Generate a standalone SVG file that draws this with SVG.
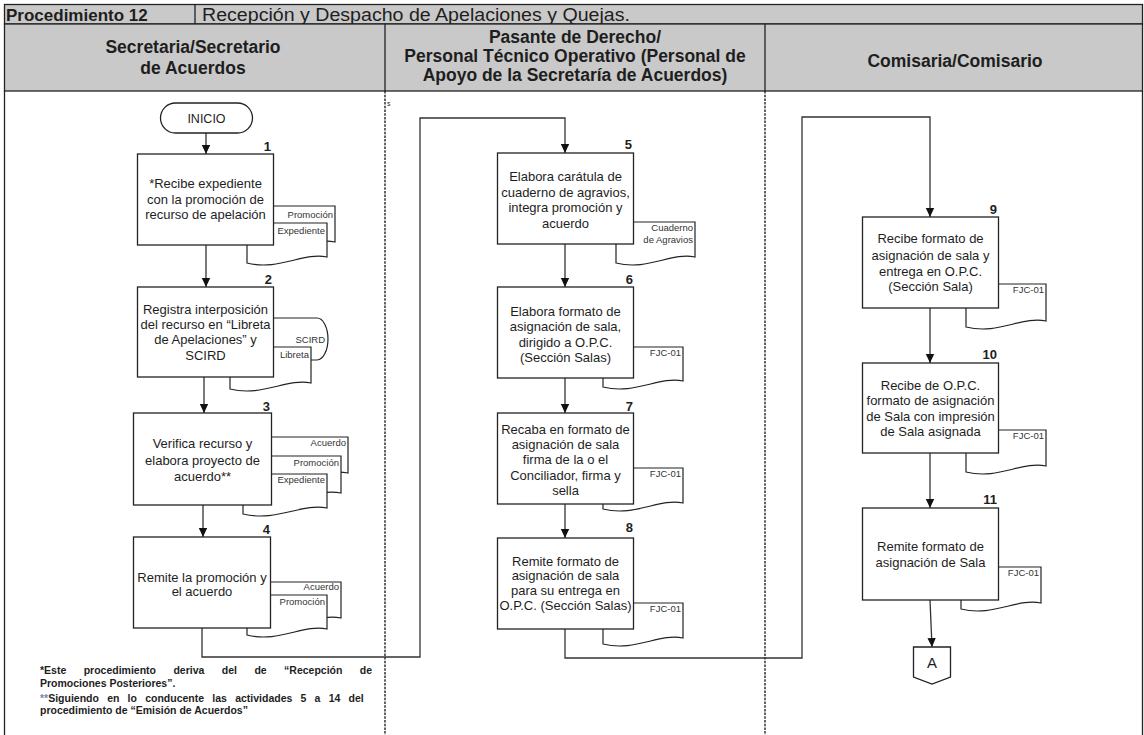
<svg xmlns="http://www.w3.org/2000/svg" width="1144" height="735" viewBox="0 0 1144 735">
<style>
text{font-family:"Liberation Sans",Arial,sans-serif;fill:#1e1e1e}
.hd{font-size:17.5px;font-weight:bold;text-anchor:middle}
.t{font-size:13px;text-anchor:middle}
.n{font-size:13px;font-weight:bold;text-anchor:end}
.d{font-size:9.5px;text-anchor:end;fill:#333}
.fn{font-size:10.5px;font-weight:bold}
.box{fill:#fff;stroke:#222;stroke-width:1.3}
.doc{fill:#fff;stroke:#222;stroke-width:1.2}
.conn{fill:none;stroke:#333;stroke-width:1.3}
.arr{marker-end:url(#ah)}
.dash{stroke:#111;stroke-width:1.3;stroke-dasharray:2.5,1.2}
</style>
<defs>
<marker id="ah" markerWidth="10" markerHeight="10" refX="9" refY="5" orient="auto" markerUnits="userSpaceOnUse">
<path d="M0,0.8 L9,5 L0,9.2 Z" fill="#111"/>
</marker>
</defs>
<rect width="1144" height="735" fill="#fff"/>
<g id="table">
<rect x="4.5" y="4.5" width="1138" height="19.5" fill="#c9c9c9" stroke="#222" stroke-width="1.3"/>
<line x1="195" y1="4.5" x2="195" y2="24" stroke="#222" stroke-width="1.3"/>
<text x="6" y="20.5" style="font-size:17px;font-weight:bold">Procedimiento 12</text>
<text x="202" y="20.5" style="font-size:17.5px" textLength="428" lengthAdjust="spacingAndGlyphs">Recepción y Despacho de Apelaciones y Quejas.</text>
<rect x="4.5" y="24" width="1138" height="67" fill="#c9c9c9" stroke="#222" stroke-width="1.3"/>
<line x1="385" y1="24" x2="385" y2="91" stroke="#222" stroke-width="1.3"/>
<line x1="765" y1="24" x2="765" y2="91" stroke="#222" stroke-width="1.3"/>
<text class="hd" x="193" y="53">Secretaria/Secretario</text>
<text class="hd" x="193" y="74">de Acuerdos</text>
<text class="hd" x="575" y="43">Pasante de Derecho/</text>
<text class="hd" x="575" y="62">Personal Técnico Operativo (Personal de</text>
<text class="hd" x="575" y="81">Apoyo de la Secretaría de Acuerdos)</text>
<text class="hd" x="955" y="67">Comisaria/Comisario</text>
<line x1="4.5" y1="91" x2="4.5" y2="735" stroke="#222" stroke-width="1.3"/>
<line x1="1142.5" y1="91" x2="1142.5" y2="735" stroke="#222" stroke-width="1.3"/>
<line class="dash" x1="385" y1="91" x2="385" y2="735"/>
<line class="dash" x1="765" y1="91" x2="765" y2="735"/>
<text x="387" y="106" style="font-size:7px">s</text>
</g>
<g id="connectors">
<line class="conn arr" x1="206" y1="133" x2="206" y2="154"/>
<line class="conn arr" x1="206" y1="245" x2="206" y2="287"/>
<line class="conn arr" x1="204" y1="377" x2="204" y2="413"/>
<line class="conn arr" x1="203" y1="505" x2="203" y2="537"/>
<polyline class="conn arr" points="202,628 202,657 420,657 420,118 565,118 565,153"/>
<line class="conn arr" x1="565" y1="244" x2="565" y2="287"/>
<line class="conn arr" x1="565" y1="378" x2="565" y2="413"/>
<line class="conn arr" x1="565" y1="504" x2="565" y2="538"/>
<polyline class="conn arr" points="565,629 565,658 802,658 802,117 930,117 930,217"/>
<line class="conn arr" x1="930" y1="308" x2="930" y2="363"/>
<line class="conn arr" x1="930" y1="453" x2="930" y2="508"/>
<line class="conn arr" x1="930" y1="600" x2="932" y2="647"/>
</g>
<g id="inicio">
<rect class="box" x="160.5" y="103" width="92" height="30" rx="15"/>
<text x="206.5" y="122.5" style="font-size:12.5px;text-anchor:middle">INICIO</text>
</g>
<g id="step1">
<path class="doc" d="M255,206 H335 V242 C311,237 287,256 255,248 Z"/>
<path class="doc" d="M247,223 H327 V257 C303,252 279,271 247,263 Z"/>
<rect class="box" x="137.5" y="154" width="136" height="91"/>
<text class="n" x="271" y="151">1</text>
<text class="t" x="205.5" y="188">*Recibe expediente</text>
<text class="t" x="205.5" y="203.5">con la promoción de</text>
<text class="t" x="205.5" y="219">recurso de apelación</text>
<text class="d" x="333" y="218">Promoción</text>
<text class="d" x="325" y="234">Expediente</text>
</g>
<g id="step2">
<path class="doc" d="M250,318 H317 A11,21 0 0 1 317,360 H250 Z"/>
<path class="doc" d="M230,347 H311 V383 C286.7,378 262.4,397 230,389 Z"/>
<rect class="box" x="137.5" y="287" width="136" height="90"/>
<text class="n" x="272" y="284">2</text>
<text class="t" x="205.5" y="313.5">Registra interposición</text>
<text class="t" x="205.5" y="328.5">del recurso en “Libreta</text>
<text class="t" x="205.5" y="344">de Apelaciones” y</text>
<text class="t" x="205.5" y="359.5">SCIRD</text>
<text class="d" x="325" y="343">SCIRD</text>
<text class="d" x="309" y="358">Libreta</text>
</g>
<g id="step3">
<path class="doc" d="M260,437 H348 V473 C321.6,468 295.2,487 260,479 Z"/>
<path class="doc" d="M252,456 H341 V493 C314.3,488 287.6,507 252,499 Z"/>
<path class="doc" d="M243,474 H327 V508 C301.8,503 276.6,522 243,514 Z"/>
<rect class="box" x="133.5" y="413" width="138" height="92"/>
<text class="n" x="270" y="410.5">3</text>
<text class="t" x="202.5" y="448">Verifica recurso y</text>
<text class="t" x="202.5" y="464.5">elabora proyecto de</text>
<text class="t" x="202.5" y="480.5">acuerdo**</text>
<text class="d" x="346" y="446">Acuerdo</text>
<text class="d" x="339" y="466">Promoción</text>
<text class="d" x="325" y="483">Expediente</text>
</g>
<g id="step4">
<path class="doc" d="M260,582 H341 V618 C316.7,613 292.4,632 260,624 Z"/>
<path class="doc" d="M247,595 H327 V629 C303,624 279,643 247,635 Z"/>
<rect class="box" x="133.5" y="537" width="137" height="91"/>
<text class="n" x="270" y="533.5">4</text>
<text class="t" x="202" y="581.5">Remite la promoción y</text>
<text class="t" x="202" y="595.5">el acuerdo</text>
<text class="d" x="339" y="590">Acuerdo</text>
<text class="d" x="325" y="605">Promoción</text>
</g>
<g id="step5">
<path class="doc" d="M616,222 H695 V257 C671.3,252 647.6,271 616,263 Z"/>
<rect class="box" x="497.5" y="153" width="136" height="91"/>
<text class="n" x="632" y="149">5</text>
<text class="t" x="565.5" y="180.5">Elabora carátula de</text>
<text class="t" x="565.5" y="196.5">cuaderno de agravios,</text>
<text class="t" x="565.5" y="212">integra promoción y</text>
<text class="t" x="565.5" y="228">acuerdo</text>
<text class="d" x="693" y="231">Cuaderno</text>
<text class="d" x="693" y="243">de Agravios</text>
</g>
<g id="step6">
<path class="doc" d="M603,347 H683 V381 C659,376 635,395 603,387 Z"/>
<rect class="box" x="497.5" y="287" width="136" height="91"/>
<text class="n" x="633" y="284">6</text>
<text class="t" x="565.5" y="316">Elabora formato de</text>
<text class="t" x="565.5" y="331">asignación de sala,</text>
<text class="t" x="565.5" y="346.5">dirigido a O.P.C.</text>
<text class="t" x="565.5" y="362">(Sección Salas)</text>
<text class="d" x="681" y="356">FJC-01</text>
</g>
<g id="step7">
<path class="doc" d="M603,468 H683 V503 C659,498 635,517 603,509 Z"/>
<rect class="box" x="497.5" y="413" width="136" height="91"/>
<text class="n" x="633" y="410.5">7</text>
<text class="t" x="565.5" y="433.5">Recaba en formato de</text>
<text class="t" x="565.5" y="448.5">asignación de sala</text>
<text class="t" x="565.5" y="464">firma de la o el</text>
<text class="t" x="565.5" y="479.5">Conciliador, firma y</text>
<text class="t" x="565.5" y="494.5">sella</text>
<text class="d" x="681" y="477">FJC-01</text>
</g>
<g id="step8">
<path class="doc" d="M603,603 H683 V638 C659,633 635,652 603,644 Z"/>
<rect class="box" x="497.5" y="538" width="136" height="91"/>
<text class="n" x="633" y="531.5">8</text>
<text class="t" x="565.5" y="566">Remite formato de</text>
<text class="t" x="565.5" y="579.5">asignación de sala</text>
<text class="t" x="565.5" y="594.5">para su entrega en</text>
<text class="t" x="565.5" y="609.5">O.P.C. (Sección Salas)</text>
<text class="d" x="681" y="612">FJC-01</text>
</g>
<g id="step9">
<path class="doc" d="M966,284 H1046 V321 C1022,316 998,335 966,327 Z"/>
<rect class="box" x="862.5" y="217" width="136" height="91"/>
<text class="n" x="997" y="213.5">9</text>
<text class="t" x="930.5" y="243">Recibe formato de</text>
<text class="t" x="930.5" y="260">asignación de sala y</text>
<text class="t" x="930.5" y="276">entrega en O.P.C.</text>
<text class="t" x="930.5" y="291">(Sección Sala)</text>
<text class="d" x="1044" y="293">FJC-01</text>
</g>
<g id="step10">
<path class="doc" d="M966,430 H1046 V466 C1022,461 998,480 966,472 Z"/>
<rect class="box" x="862.5" y="363" width="136" height="90"/>
<text class="n" x="997" y="358.5">10</text>
<text class="t" x="930.5" y="389.5">Recibe de O.P.C.</text>
<text class="t" x="930.5" y="405">formato de asignación</text>
<text class="t" x="930.5" y="420.5">de Sala con impresión</text>
<text class="t" x="930.5" y="436">de Sala asignada</text>
<text class="d" x="1044" y="439">FJC-01</text>
</g>
<g id="step11">
<path class="doc" d="M961,567 H1041 V603 C1017,598 993,617 961,609 Z"/>
<rect class="box" x="862.5" y="508" width="136" height="92"/>
<text class="n" x="997" y="503.5">11</text>
<text class="t" x="930.5" y="551">Remite formato de</text>
<text class="t" x="930.5" y="567">asignación de Sala</text>
<text class="d" x="1039" y="576">FJC-01</text>
</g>
<g id="connectorA">
<polygon class="box" points="913.5,647 950.5,647 950.5,677 932,684 913.5,677"/>
<text x="932" y="668" style="font-size:15px;text-anchor:middle">A</text>
</g>
<g id="notes">
<text class="fn" x="40" y="674" style="word-spacing:14.5px">*Este procedimiento deriva del de “Recepción de</text>
<text class="fn" x="40" y="687">Promociones Posteriores”.</text>
<text class="fn" x="40" y="701.5" style="word-spacing:5.3px"><tspan fill="#7c8a99">**</tspan>Siguiendo en lo conducente las actividades 5 a 14 del</text>
<text class="fn" x="40" y="714">procedimiento de “Emisión de Acuerdos”</text>
</g>
</svg>
